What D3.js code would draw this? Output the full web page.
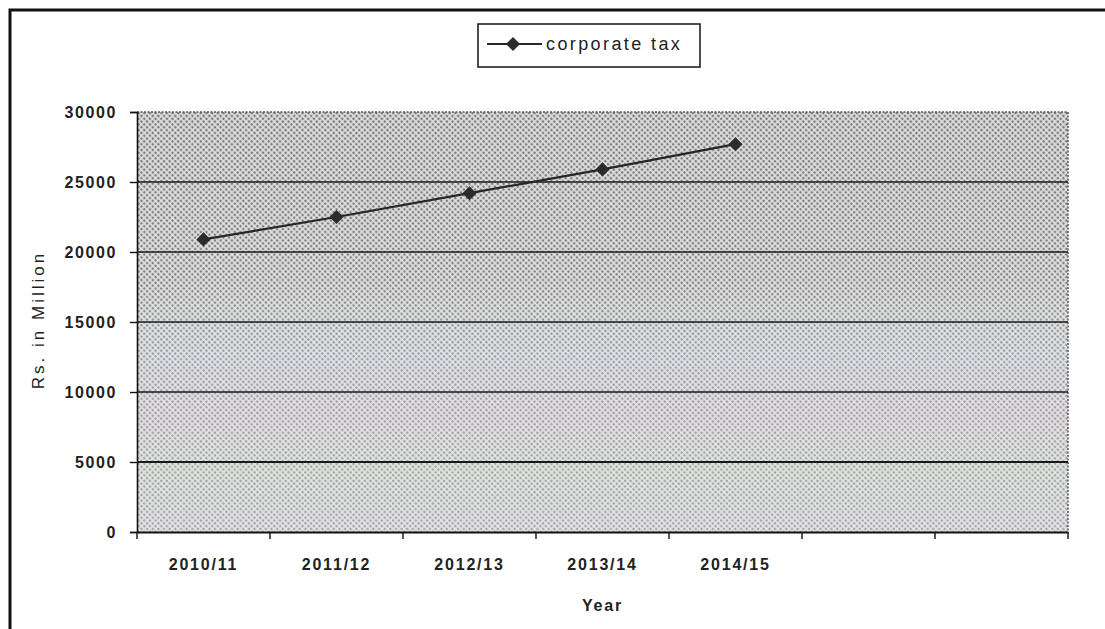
<!DOCTYPE html>
<html>
<head>
<meta charset="utf-8">
<script src="https://cdn.jsdelivr.net/npm/d3@7"></script>
<style>
  html, body { margin: 0; padding: 0; background: #fff; overflow: hidden; }
  svg { display: block; }
  text { font-family: "Liberation Sans", Arial, sans-serif; fill: #222; }
</style>
</head>
<body>
<svg id="chart" width="1105" height="629"></svg>
<script>
// Category slots on the x axis (the last two are left empty)
const categories = ["2010/11", "2011/12", "2012/13", "2013/14", "2014/15", "", ""];
// Corporate tax collected, Rs. in Million
const taxYears = ["2010/11", "2011/12", "2012/13", "2013/14", "2014/15"];
const taxValues = [20900, 22500, 24200, 25900, 27700];
const yTicks = [0, 5000, 10000, 15000, 20000, 25000, 30000];
const seriesName = "corporate tax";

const svg = d3.select("#chart");
const plot = { left: 137, right: 1068, top: 112, bottom: 532 };

// Outer chart frame: left and top edges (the rest runs off the page)
svg.append("path")
  .attr("d", "M10,640V10H1110")
  .attr("fill", "none").attr("stroke", "#111").attr("stroke-width", 3);

const defs = svg.append("defs");

// Halftone dot fill for the plot background
const pat = defs.append("pattern")
  .attr("id", "halftone")
  .attr("patternUnits", "userSpaceOnUse")
  .attr("width", 4).attr("height", 4)
  .attr("patternTransform", "rotate(45)");
pat.append("rect").attr("width", 4).attr("height", 4).attr("fill", "#dedede");
pat.append("circle").attr("cx", 2).attr("cy", 2).attr("r", 1.35).attr("fill", "#7a7a7a");

// Pale tint that lightens the lower half of the plot
const fade = defs.append("linearGradient")
  .attr("id", "fade").attr("x1", 0).attr("y1", 0).attr("x2", 0).attr("y2", 1);
[
  [0.00, "#ffffff", 0.0],
  [0.40, "#ffffff", 0.06],
  [0.58, "#e6f2ff", 0.30],
  [0.72, "#f6e4f4", 0.34],
  [0.86, "#e6f6ea", 0.36],
  [1.00, "#f2eaf8", 0.38]
].forEach(([o, c, a]) => fade.append("stop")
  .attr("offset", o).attr("stop-color", c).attr("stop-opacity", a));

const x = d3.scaleBand()
  .domain(d3.range(categories.length))
  .range([plot.left, plot.right])
  .paddingInner(0).paddingOuter(0);

const y = d3.scaleLinear()
  .domain([0, 30000])
  .range([plot.bottom, plot.top]);

// Plot background
svg.append("rect")
  .attr("x", plot.left).attr("y", plot.top)
  .attr("width", plot.right - plot.left).attr("height", plot.bottom - plot.top)
  .attr("fill", "url(#halftone)");
svg.append("rect")
  .attr("x", plot.left).attr("y", plot.top)
  .attr("width", plot.right - plot.left).attr("height", plot.bottom - plot.top)
  .attr("fill", "url(#fade)");

// Dotted top and right edges of the plot area
svg.append("path")
  .attr("d", `M${plot.left},${y(30000)}H${plot.right}V${plot.bottom}`)
  .attr("fill", "none").attr("stroke", "#555").attr("stroke-width", 1.5)
  .attr("stroke-dasharray", "2,1.5");

// Horizontal gridlines
svg.append("g")
  .selectAll("line")
  .data(yTicks.filter(v => v > 0 && v < 30000))
  .join("line")
  .attr("x1", plot.left).attr("x2", plot.right)
  .attr("y1", d => y(d)).attr("y2", d => y(d))
  .attr("stroke", "#1a1a1a")
  .attr("stroke-width", d => d === 5000 ? 2.2 : 1.4);

// Y axis
const yAxis = svg.append("g")
  .attr("transform", `translate(${plot.left},0)`)
  .call(d3.axisLeft(y).tickValues(yTicks).tickSize(7).tickPadding(13).tickFormat(d3.format("d")));
yAxis.select(".domain").attr("stroke", "#111").attr("stroke-width", 1.6);
yAxis.selectAll(".tick line").attr("stroke", "#111").attr("stroke-width", 1.4);
yAxis.selectAll(".tick text")
  .style("font-family", "'Liberation Sans', Arial, sans-serif")
  .style("font-size", "16px").style("font-weight", "bold")
  .style("letter-spacing", "1.6px").attr("fill", "#2a2a2a");

// X axis: labels centred in each slot, tick marks on slot boundaries
const xAxis = svg.append("g")
  .attr("transform", `translate(0,${plot.bottom})`)
  .call(d3.axisBottom(x).tickSize(0).tickPadding(27).tickFormat(i => categories[i]));
xAxis.select(".domain").attr("stroke", "#111").attr("stroke-width", 1.8);
xAxis.selectAll(".tick text")
  .style("font-family", "'Liberation Sans', Arial, sans-serif")
  .style("font-size", "16px").style("font-weight", "bold")
  .style("letter-spacing", "1.8px").attr("fill", "#2a2a2a");

svg.append("g")
  .selectAll("line")
  .data(d3.range(categories.length + 1))
  .join("line")
  .attr("x1", i => plot.left + i * x.step())
  .attr("x2", i => plot.left + i * x.step())
  .attr("y1", plot.bottom).attr("y2", plot.bottom + 7)
  .attr("stroke", "#111").attr("stroke-width", 1.4);

// Axis titles
svg.append("text")
  .attr("x", (plot.left + plot.right) / 2).attr("y", 611)
  .attr("text-anchor", "middle")
  .style("font-size", "16px").style("font-weight", "bold").style("letter-spacing", "1.8px")
  .text("Year");

svg.append("text")
  .attr("transform", `translate(44,${(plot.top + plot.bottom) / 2 - 2}) rotate(-90)`)
  .attr("text-anchor", "middle")
  .style("font-size", "17px").style("letter-spacing", "3px")
  .text("Rs. in Million");

// Series line and diamond markers
const points = taxYears.map((yr, i) => ({ cat: categories.indexOf(yr), value: taxValues[i] }));
const cx = d => x(d.cat) + x.bandwidth() / 2;

svg.append("path")
  .datum(points)
  .attr("fill", "none").attr("stroke", "#262626").attr("stroke-width", 2.2)
  .attr("d", d3.line().x(cx).y(d => y(d.value)));

const diamond = d3.symbol().type(d3.symbolSquare).size(100);
svg.append("g")
  .selectAll("path")
  .data(points)
  .join("path")
  .attr("d", diamond)
  .attr("transform", d => `translate(${cx(d)},${y(d.value)}) rotate(45)`)
  .attr("fill", "#2b2b2b");

// Legend
const lg = svg.append("g");
lg.append("rect")
  .attr("x", 478).attr("y", 24).attr("width", 222).attr("height", 43)
  .attr("fill", "#fff").attr("stroke", "#222").attr("stroke-width", 1.6);
lg.append("line")
  .attr("x1", 487).attr("x2", 542).attr("y1", 44).attr("y2", 44)
  .attr("stroke", "#262626").attr("stroke-width", 2.2);
lg.append("path")
  .attr("d", diamond)
  .attr("transform", "translate(513,44) rotate(45)")
  .attr("fill", "#2b2b2b");
lg.append("text")
  .attr("x", 546).attr("y", 50)
  .style("font-size", "18px").style("letter-spacing", "2.4px")
  .text(seriesName);
</script>
</body>
</html>
